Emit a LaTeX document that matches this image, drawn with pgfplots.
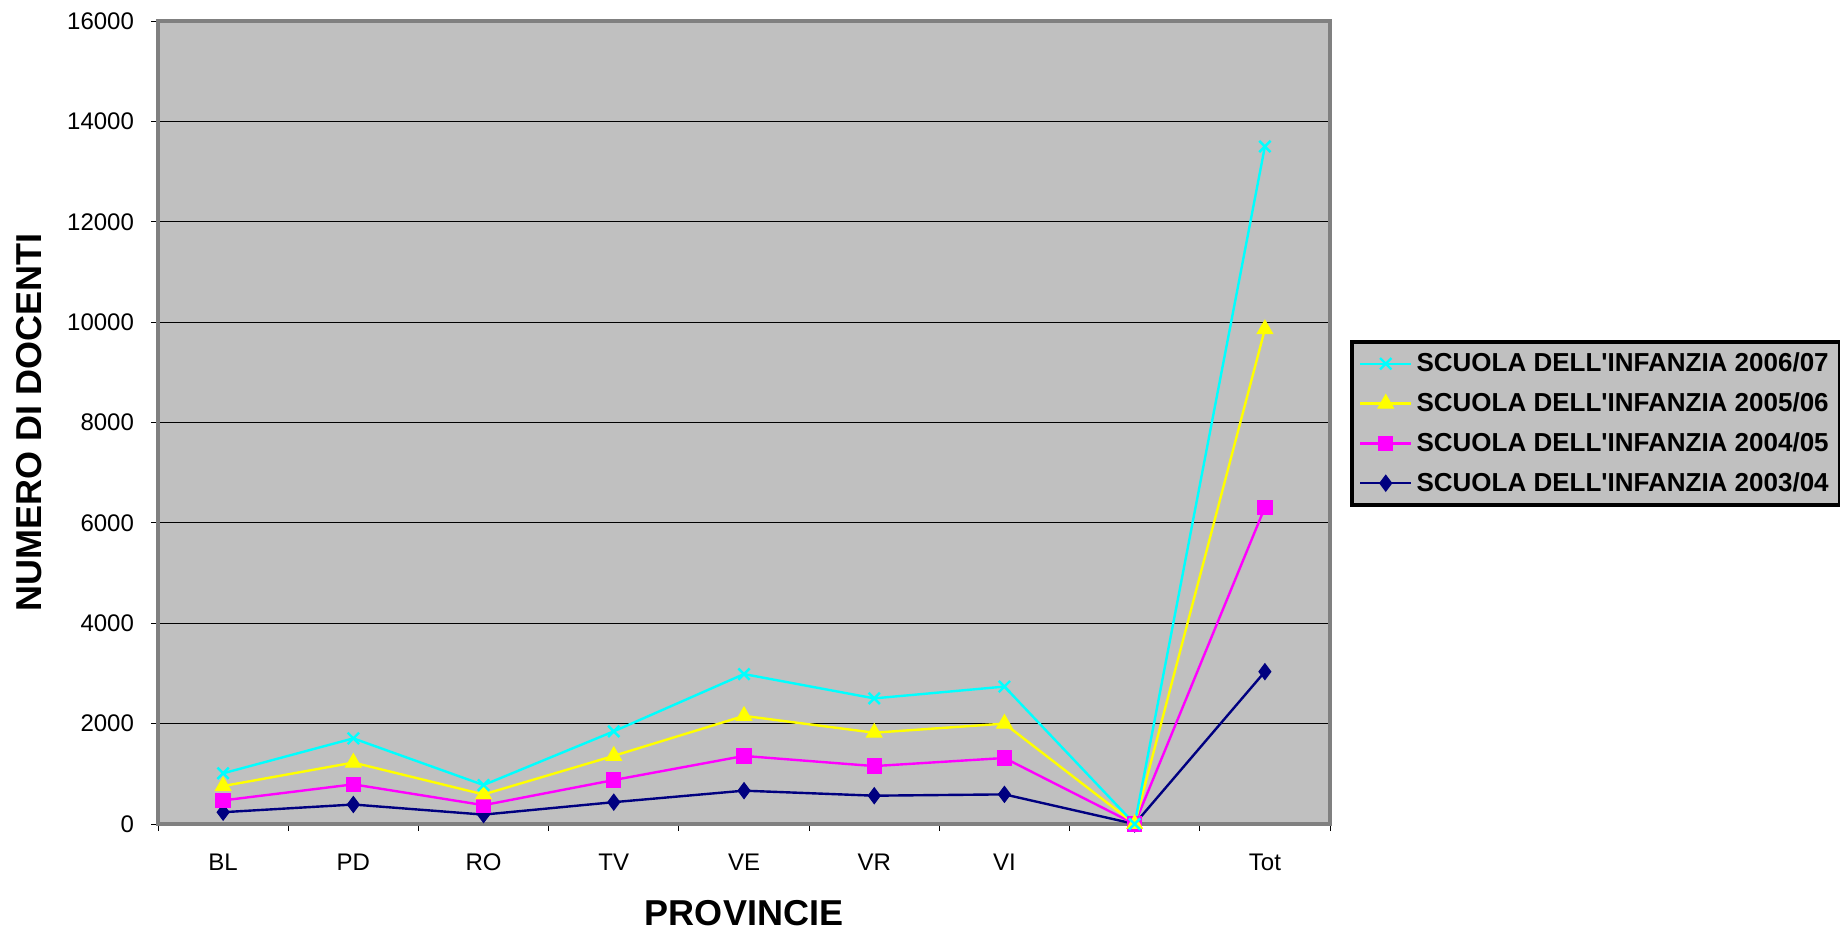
\documentclass[border=0pt]{standalone}
\usepackage{pgfplots}
\pgfplotsset{compat=1.18}
\usepackage{fontspec}
\setmainfont{Liberation Sans}
\definecolor{plotbg}{HTML}{C0C0C0}
\definecolor{frame}{HTML}{808080}
\definecolor{cnavy}{HTML}{000080}
\definecolor{cmag}{HTML}{FF00FF}
\definecolor{cyel}{HTML}{FFFF00}
\definecolor{ccyan}{HTML}{00FFFF}
\begin{document}
\begin{tikzpicture}
\path[use as bounding box] (0,0) rectangle (920pt,465.5pt);
\begin{axis}[
  at={(79pt,53.5pt)}, anchor=south west,
  scale only axis, width=586pt, height=401.5pt,
  xmin=-0.5, xmax=8.5, ymin=0, ymax=16000,
  scaled ticks=false,
  xtick={0,...,8},
  xticklabels={BL,PD,RO,TV,VE,VR,VI,,Tot},
  major x tick style={draw=none},
  minor xtick={-0.5,0.5,...,8.5},
  minor x tick style={black, thin},
  minor tick length=3.5pt,
  ytick={0,2000,...,16000},
  xtick pos=left, ytick pos=left,
  tick align=outside,
  major tick length=3.5pt,
  tick style={black, thin},
  ymajorgrids, grid style={black, thin},
  axis background/.style={fill=plotbg},
  axis line style={frame, line width=2pt},
  tick label style={font=\fontsize{12}{14}\selectfont},
  yticklabel style={xshift=-5pt},
  xticklabel style={yshift=-8pt},
  /pgf/number format/.cd, set thousands separator={}, assume math mode=true,
  /pgfplots/.cd,
  xlabel={\bfseries PROVINCIE},
  ylabel={\bfseries NUMERO DI DOCENTI},
  label style={font=\fontsize{18}{20}\selectfont},
  xlabel style={at={(axis description cs:0.5,0)}, anchor=center, yshift=-44.5pt},
  ylabel style={at={(axis description cs:0,0.5)}, anchor=center, yshift=64.5pt},
  legend style={at={(axis description cs:1.017,0.603)}, anchor=north west,
    fill=plotbg, draw=black, line width=2pt,
    font=\fontsize{13}{15}\selectfont\bfseries,
    row sep=5pt, inner sep=3.5pt, cells={anchor=west}},
  reverse legend,
  legend image code/.code={\draw[mark repeat=2,mark phase=2,line width=1.2pt] plot coordinates {(0cm,0cm) (0.45cm,0cm) (0.9cm,0cm)};},
  every axis plot/.append style={line width=1.2pt},
]
% 2003/04
\addplot[color=cnavy, mark=diamond*, mark size=4pt, mark options={solid, fill=cnavy, line width=0.5pt}]
  coordinates {(0,235) (1,388) (2,187) (3,435) (4,664) (5,564) (6,590) (7,0) (8,3035)};
\addlegendentry{SCUOLA DELL\textquotesingle INFANZIA 2003/04}
% 2004/05
\addplot[color=cmag, mark=square*, mark size=3.6pt, mark options={solid, fill=cmag, line width=0.5pt}]
  coordinates {(0,470) (1,790) (2,375) (3,876) (4,1356) (5,1154) (6,1315) (7,0) (8,6310)};
\addlegendentry{SCUOLA DELL\textquotesingle INFANZIA 2004/05}
% 2005/06
\addplot[color=cyel, mark=triangle*, mark size=4.5pt, mark options={solid, fill=cyel, line width=0.5pt}]
  coordinates {(0,756) (1,1224) (2,589) (3,1358) (4,2154) (5,1819) (6,2000) (7,0) (8,9860)};
\addlegendentry{SCUOLA DELL\textquotesingle INFANZIA 2005/06}
% 2006/07
\addplot[color=ccyan, mark=x, mark size=4pt, mark options={solid, line width=1.2pt}]
  coordinates {(0,1010) (1,1706) (2,776) (3,1846) (4,2987) (5,2503) (6,2738) (7,0) (8,13500)};
\addlegendentry{SCUOLA DELL\textquotesingle INFANZIA 2006/07}
\end{axis}
\end{tikzpicture}
\end{document}
